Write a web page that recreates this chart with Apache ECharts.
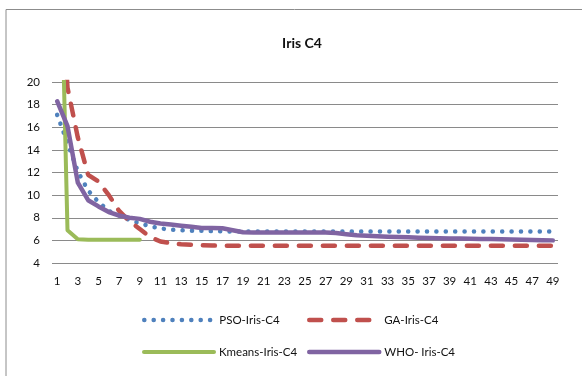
<!DOCTYPE html>
<html>
<head>
<meta charset="utf-8">
<script src="https://cdn.jsdelivr.net/npm/echarts@6/dist/echarts.min.js"></script>
<style>
html,body{margin:0;padding:0;background:#fff;}
#c{width:582px;height:376px;}
</style>
</head>
<body>
<div id="c"></div>
<script>
const categories = [];
for (let i = 1; i <= 49; i++) categories.push(String(i));

const psoValues = [17.1, 14.6, 12.1, 10.4, 9.4, 8.6, 8.2, 7.8, 7.5, 7.25, 7.05, 6.95, 6.9, 6.85, 6.85, 6.82, 6.8,
  6.78, 6.78, 6.78, 6.78, 6.78, 6.78, 6.78, 6.78, 6.78, 6.78, 6.78, 6.78, 6.78, 6.78, 6.78, 6.78,
  6.78, 6.78, 6.78, 6.78, 6.78, 6.78, 6.78, 6.78, 6.78, 6.78, 6.78, 6.78, 6.78, 6.78, 6.78, 6.78];
const gaValues = [35, 19.5, 15.1, 11.8, 11.2, 10.0, 8.6, 7.7, 7.0, 6.3, 5.9, 5.75, 5.65, 5.6, 5.57, 5.55,
  5.52, 5.52, 5.52, 5.52, 5.52, 5.52, 5.52, 5.52, 5.52, 5.52, 5.52, 5.52, 5.52, 5.52, 5.52, 5.52, 5.52,
  5.52, 5.52, 5.52, 5.52, 5.52, 5.52, 5.52, 5.52, 5.52, 5.52, 5.52, 5.52, 5.52, 5.52, 5.52, 5.52];
const kmeansValues = [45, 6.9, 6.1, 6.05, 6.05, 6.05, 6.05, 6.05, 6.05];
const whoValues = [18.3, 16.1, 11.1, 9.55, 9.0, 8.5, 8.2, 8.0, 7.9, 7.65, 7.5, 7.4, 7.3, 7.2, 7.1, 7.1, 7.07,
  6.9, 6.72, 6.7, 6.7, 6.7, 6.7, 6.7, 6.7, 6.7, 6.7, 6.65, 6.55, 6.45, 6.4, 6.36, 6.33, 6.3, 6.27, 6.24,
  6.2, 6.18, 6.17, 6.16, 6.15, 6.13, 6.12, 6.1, 6.07, 6.06, 6.04, 6.02, 6.0];
const yTicks = {min: 4, max: 20, interval: 2};

const names = ['PSO-Iris-C4', 'GA-Iris-C4', 'Kmeans-Iris-C4', 'WHO- Iris-C4'];
const colors = ['#4F81BD', '#C0504D', '#9BBB59', '#8064A2'];
const FONT = 'Lato, "Open Sans", sans-serif';

const chart = echarts.init(document.getElementById('c'), null, {renderer: 'canvas'});

function legendAt(name, left, top) {
  return {
    data: [name], left: left, top: top, orient: 'horizontal',
    itemWidth: 70, itemHeight: 14, itemGap: 5, padding: 0,
    selectedMode: false,
    itemStyle: {opacity: 0},
    lineStyle: {width: 'inherit'},
    textStyle: {fontFamily: FONT, fontSize: 11.5, color: '#111'}
  };
}

chart.setOption({
  animation: false,
  backgroundColor: '#fff',
  title: {
    text: 'Iris C4', left: 297, top: 31, textAlign: 'center',
    textStyle: {fontFamily: FONT, fontSize: 14, fontWeight: 'bold', color: '#111'}
  },
  graphic: [{
    type: 'rect', shape: {x: 6, y: 9.5, width: 700, height: 500},
    style: {fill: 'none', stroke: '#8c8c8c', lineWidth: 1}, silent: true, z: -1
  }],
  legend: [
    legendAt(names[0], 142, 314),
    legendAt(names[1], 307, 314),
    legendAt(names[2], 142, 346),
    legendAt(names[3], 307, 346)
  ],
  grid: {left: 52, top: 82, width: 506, height: 181, containLabel: false},
  xAxis: {
    type: 'category', data: categories, boundaryGap: true,
    axisLine: {show: false}, axisTick: {show: false},
    axisLabel: {interval: 1, margin: 12, fontFamily: FONT, fontSize: 11.5, color: '#111'},
    splitLine: {show: false}
  },
  yAxis: {
    type: 'value', min: yTicks.min, max: yTicks.max, interval: yTicks.interval,
    axisLine: {show: false}, axisTick: {show: false},
    axisLabel: {margin: 12, fontFamily: FONT, fontSize: 11.5, color: '#111'},
    splitLine: {show: true, lineStyle: {color: '#8a8a8a', width: 1}}
  },
  series: [
    {name: names[0], type: 'line', data: psoValues, symbol: 'none', color: colors[0], z: 2,
      lineStyle: {color: colors[0], width: 4.5, type: [0.1, 9.3], cap: 'round'}},
    {name: names[1], type: 'line', data: gaValues, symbol: 'none', color: colors[1], z: 3,
      lineStyle: {color: colors[1], width: 4.5, type: [12, 12], cap: 'round'}},
    {name: names[2], type: 'line', data: kmeansValues, symbol: 'none', color: colors[2], z: 4,
      lineStyle: {color: colors[2], width: 4, cap: 'round', join: 'round'}},
    {name: names[3], type: 'line', data: whoValues, symbol: 'none', color: colors[3], z: 5,
      lineStyle: {color: colors[3], width: 4.5, cap: 'round', join: 'round'}}
  ]
});
</script>
</body>
</html>
